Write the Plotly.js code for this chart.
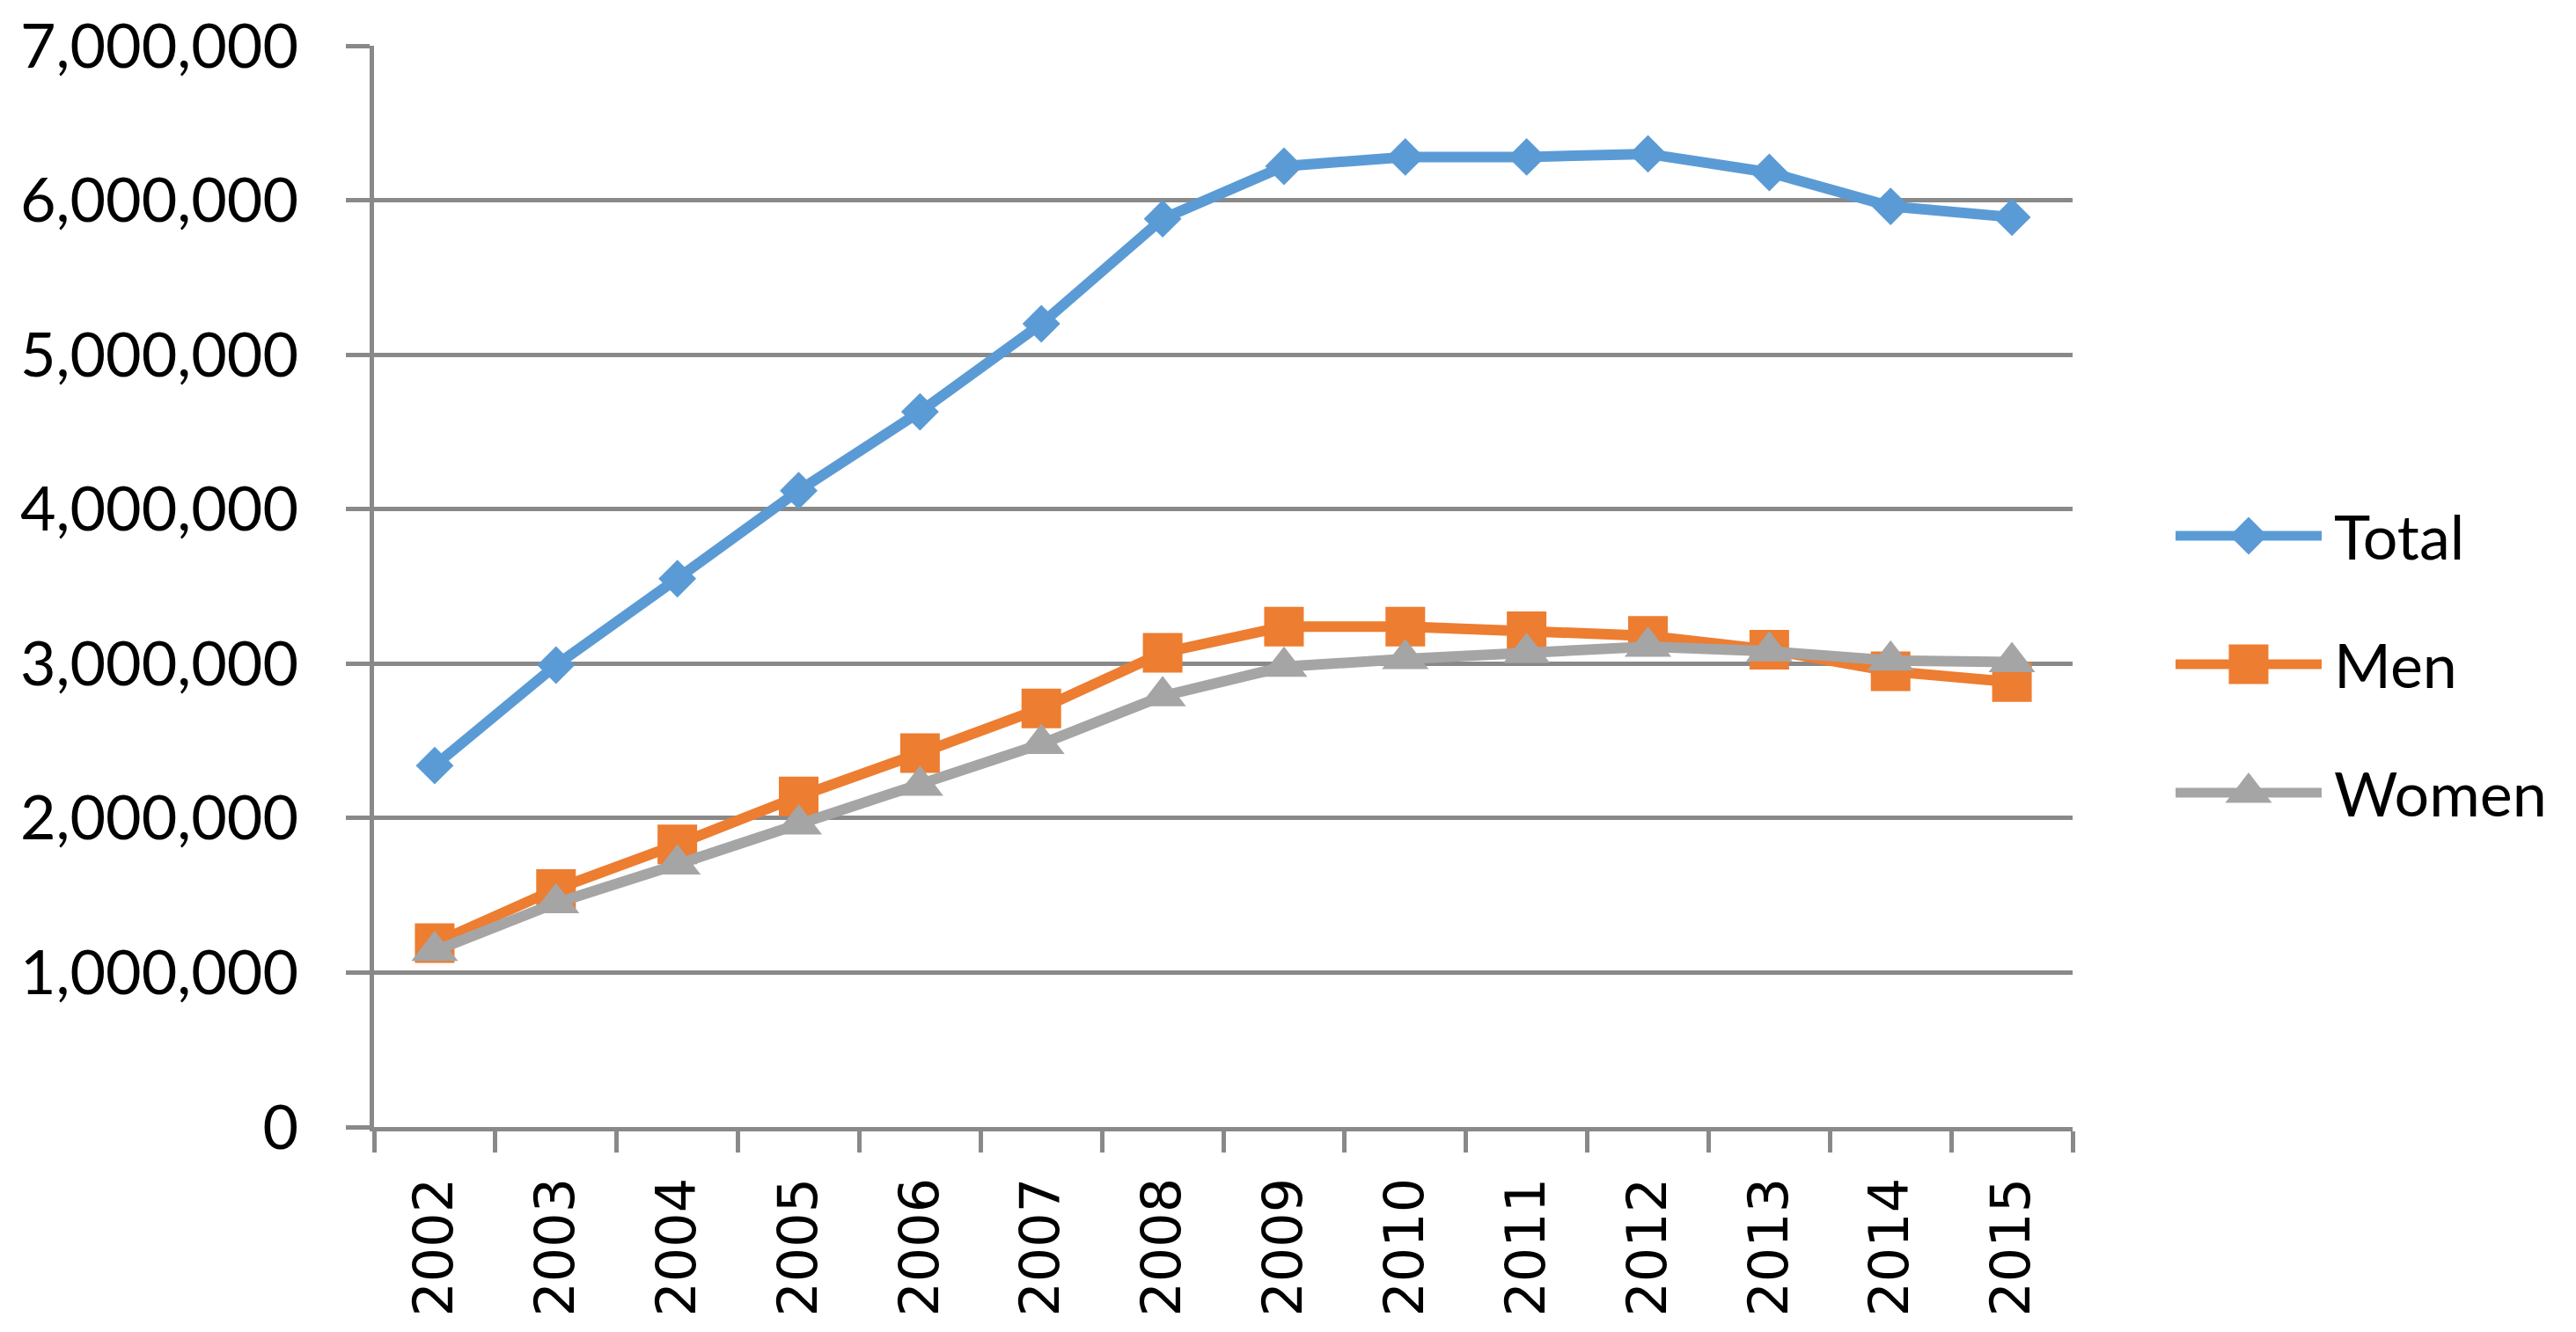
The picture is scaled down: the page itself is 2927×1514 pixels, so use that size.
<!DOCTYPE html>
<html><head><meta charset="utf-8">
<script src="https://cdn.plot.ly/plotly-3.0.1.min.js"></script>
<style>html,body{margin:0;padding:0;background:#fff;}#chart{width:2927px;height:1514px;}</style>
</head><body><div id="chart"></div>
<script>
const years = ['2002','2003','2004','2005','2006','2007','2008','2009','2010','2011','2012','2013','2014','2015'];
const total = [2340000, 2990000, 3550000, 4120000, 4630000, 5200000, 5880000, 6220000, 6280000, 6280000, 6300000, 6180000, 5960000, 5890000];
const men   = [1190000, 1540000, 1830000, 2140000, 2420000, 2710000, 3070000, 3240000, 3240000, 3210000, 3180000, 3090000, 2950000, 2880000];
const women = [1140000, 1450000, 1700000, 1960000, 2210000, 2480000, 2790000, 2980000, 3030000, 3070000, 3110000, 3080000, 3020000, 3010000];
const seriesNames = ['Total', 'Men', 'Women'];
const legendRows = [0, 1, 2];
const legendLineX = [0, 1];
const legendMarkX = [0.5];

const colors = ['#5B9BD5', '#ED7D31', '#A5A5A5'];
const symbols = ['diamond', 'square', 'triangle-up'];
const sizes = [33, 45, 46];
const values = [total, men, women];

const traces = values.map((v, i) => ({
  type: 'scatter', mode: 'lines+markers', x: years, y: v, name: seriesNames[i],
  xaxis: 'x', yaxis: 'y', showlegend: false, cliponaxis: false,
  line: {color: colors[i], width: 12},
  marker: {symbol: symbols[i], size: sizes[i], color: colors[i], line: {width: 0}}
}));

const annotations = [];
seriesNames.forEach((n, i) => {
  const r = legendRows[i];
  traces.push({type: 'scatter', mode: 'lines', x: legendLineX, y: legendLineX.map(() => r),
    xaxis: 'x2', yaxis: 'y2', showlegend: false, hoverinfo: 'skip',
    line: {color: colors[i], width: 11}});
  traces.push({type: 'scatter', mode: 'markers', x: legendMarkX, y: [r],
    xaxis: 'x2', yaxis: 'y2', showlegend: false, hoverinfo: 'skip', cliponaxis: false,
    marker: {symbol: symbols[i], size: sizes[i], color: colors[i], line: {width: 0}}});
  annotations.push({xref: 'x2', yref: 'y2', x: 1, y: r, text: n, xanchor: 'left', yanchor: 'middle',
    xshift: 12, showarrow: false, font: {family: 'Lato', size: 70, color: '#000'}});
});

const axisGrey = '#898989';
const layout = {
  width: 2927, height: 1514,
  margin: {l: 425, r: 10, t: 52, b: 233},
  paper_bgcolor: '#fff', plot_bgcolor: '#fff',
  showlegend: false,
  xaxis: {
    domain: [0, 0.77448], type: 'category', range: [-0.5, 13.5],
    tickson: 'boundaries', ticks: 'outside', ticklen: 24, tickwidth: 5, tickcolor: axisGrey,
    showline: true, linecolor: axisGrey, linewidth: 5, showgrid: false, zeroline: false,
    tickangle: -90, tickfont: {family: 'DejaVu Sans', size: 62, color: '#000'},
    ticklabelstandoff: 28, fixedrange: true
  },
  yaxis: {
    range: [0, 7000000], tick0: 0, dtick: 1000000, tickformat: ',d',
    showgrid: true, gridcolor: axisGrey, gridwidth: 5, zeroline: false,
    showline: true, linecolor: axisGrey, linewidth: 5,
    ticks: 'outside', ticklen: 27, tickwidth: 5, tickcolor: axisGrey,
    tickfont: {family: 'Lato', size: 70, color: '#000'},
    ticklabelstandoff: 40, fixedrange: true
  },
  xaxis2: {domain: [0.81477, 0.89470], range: [-0.1, 1.1], visible: false, anchor: 'y2', fixedrange: true},
  yaxis2: {domain: [0.2498, 0.6062], range: [2.5, -0.5], visible: false, anchor: 'x2', fixedrange: true},
  annotations: annotations
};

Plotly.newPlot('chart', traces, layout, {staticPlot: true, displayModeBar: false});
</script>
</body></html>
